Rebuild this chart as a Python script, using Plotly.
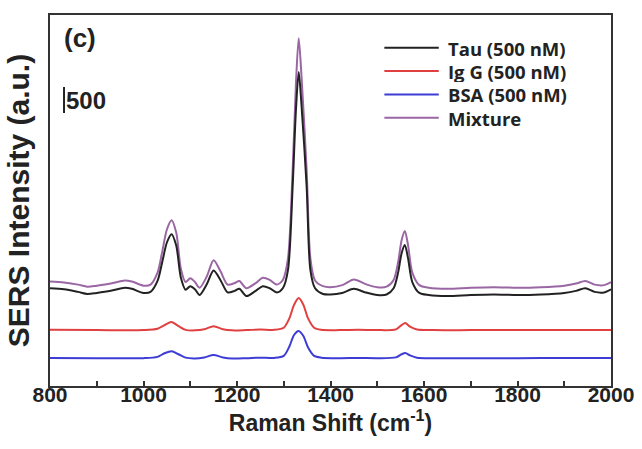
import plotly.graph_objects as go

# Raman shift sample points (cm^-1) and intensities (a.u.)
x_tau = [800, 830, 860, 880, 900, 930, 960, 975, 1000, 1015, 1030, 1040, 1050, 1060, 1070, 1080,
         1090, 1100, 1110, 1120, 1135, 1150, 1165, 1180, 1195, 1205, 1220, 1240, 1255, 1270, 1285,
         1298, 1309, 1319, 1326, 1332, 1338, 1349, 1357, 1367, 1384, 1400, 1425, 1450, 1475, 1500,
         1520, 1535, 1545, 1552, 1559, 1566, 1575, 1590, 1610, 1650, 1700, 1750, 1800, 1850, 1900,
         1925, 1945, 1965, 1985, 2000]
tau = [1880, 1860, 1810, 1770, 1790, 1830, 1890, 1870, 1790, 1810, 2020, 2380, 2760, 2920, 2700, 2080,
       1850, 1920, 1860, 1750, 1950, 2220, 2030, 1800, 1830, 1870, 1730, 1830, 1920, 1880, 1800,
       1880, 2230, 3830, 5300, 6040, 5400, 3830, 2230, 1880, 1770, 1760, 1790, 1870, 1800, 1750,
       1760, 1880, 2200, 2550, 2710, 2450, 2000, 1790, 1750, 1730, 1750, 1760, 1750, 1760, 1790,
       1830, 1880, 1810, 1800, 1860]
mixture = [2010, 1990, 1950, 1910, 1930, 1970, 2030, 2010, 1930, 1950, 2180, 2580, 3010, 3190, 2950, 2250,
           2000, 2070, 2000, 1890, 2100, 2420, 2200, 1950, 1980, 2020, 1880, 1980, 2080, 2040, 1950,
           2040, 2450, 4150, 5800, 6690, 5950, 4150, 2450, 2030, 1920, 1900, 1940, 2050, 1960, 1900,
           1910, 2040, 2400, 2800, 2980, 2700, 2180, 1940, 1890, 1870, 1890, 1900, 1890, 1900, 1930,
           1970, 2020, 1950, 1940, 2000]

x_low = [800, 900, 1000, 1030, 1045, 1060, 1075, 1090, 1110, 1130, 1150, 1170, 1190, 1220, 1250,
         1280, 1300, 1312, 1322, 1332, 1342, 1352, 1365, 1380, 1420, 1460, 1500, 1540, 1552, 1560,
         1570, 1585, 1620, 1700, 1800, 1900, 2000]
igg = [1080, 1075, 1075, 1100, 1170, 1230, 1150, 1080, 1070, 1090, 1150, 1090, 1070, 1075, 1085,
       1080, 1120, 1300, 1560, 1690, 1560, 1300, 1120, 1080, 1075, 1080, 1075, 1090, 1170, 1210,
       1140, 1085, 1075, 1075, 1075, 1078, 1075]
bsa = [540, 535, 535, 560, 630, 670, 610, 545, 530, 550, 595, 550, 530, 535, 545,
       540, 580, 760, 980, 1058, 960, 740, 580, 545, 535, 540, 535, 550, 610, 635,
       590, 545, 535, 535, 535, 540, 538]

series_names = ["Tau (500 nM)", "Ig G (500 nM)", "BSA (500 nM)", "Mixture"]
series_x = [x_tau, x_low, x_low, x_tau]
series_y = [tau, igg, bsa, mixture]
series_colors = ["#222222", "#e0403f", "#3d3dd6", "#9a66a4"]

x_ticks = [800, 1000, 1200, 1400, 1600, 1800, 2000]
scale_bar_x = 830
scale_bar_y = [5250, 5750]

fig = go.Figure()
# draw order: mixture first so tau sits on top like the original
for i in [3, 0, 1, 2]:
    fig.add_trace(go.Scatter(
        x=series_x[i], y=series_y[i], mode="lines", name=series_names[i],
        line=dict(color=series_colors[i], width=2, shape="spline", smoothing=0.8),
        showlegend=False,
    ))

# legend drawn as line samples + text (long samples as in the original)
leg_x0, leg_x1, leg_tx = 0.596, 0.693, 0.705   # paper fractions of plot width
leg_rows = [0.912, 0.849, 0.786, 0.723]        # paper fractions of plot height
for i in range(4):
    fig.add_shape(type="line", xref="paper", yref="paper", x0=leg_x0, x1=leg_x1,
                  y0=leg_rows[i], y1=leg_rows[i], line=dict(color=series_colors[i], width=2))
    fig.add_annotation(x=leg_tx, y=leg_rows[i], xref="paper", yref="paper", text=series_names[i],
                       showarrow=False, xanchor="left", yanchor="middle", height=22,
                       font=dict(family="Open Sans", size=18.5, color="#222222", weight="bold"))

fig.add_shape(type="line", xref="x", yref="y", x0=scale_bar_x, x1=scale_bar_x,
              y0=scale_bar_y[0], y1=scale_bar_y[1], line=dict(color="#222222", width=2))
fig.add_annotation(x=scale_bar_x, y=(scale_bar_y[0] + scale_bar_y[1]) / 2, xref="x", yref="y",
                   text="500", showarrow=False, xanchor="left", xshift=0,
                   font=dict(family="Liberation Sans", size=24, color="#222222", weight="bold"))
fig.add_annotation(x=0.022, y=0.985, xref="paper", yref="paper", text="(c)", showarrow=False,
                   xanchor="left", yanchor="top",
                   font=dict(family="Liberation Sans", size=26, color="#222222", weight="bold"))

axis_font = dict(family="Liberation Sans", size=21, color="#222222", weight="bold")
fig.update_layout(
    width=642, height=449,
    margin=dict(l=50, r=31, t=15, b=63),
    paper_bgcolor="white", plot_bgcolor="white",
    showlegend=False,
    xaxis=dict(range=[800, 2000], tickvals=x_ticks, ticks="inside", ticklen=5, tickwidth=1.5,
               tickcolor="#333333", showline=True, linecolor="#333333", linewidth=2, mirror=True,
               showgrid=False, zeroline=False, tickfont=axis_font, ticklabelstandoff=-11,
               automargin=False,
               minor=dict(dtick=100, ticks="inside", ticklen=5, tickwidth=1.5, tickcolor="#333333"),
               title=dict(text="Raman Shift (cm<sup>-1</sup>)", standoff=2,
                          font=dict(family="Liberation Sans", size=23, color="#222222", weight="bold"))),
    yaxis=dict(range=[0, 7135], showticklabels=False, ticks="", showline=True, linecolor="#333333",
               linewidth=2, mirror=True, showgrid=False, zeroline=False, automargin=False,
               title=dict(text="SERS Intensity (a.u.)", standoff=10,
                          font=dict(family="Liberation Sans", size=30, color="#222222", weight="bold"))),
)

fig.write_html("out.html")
